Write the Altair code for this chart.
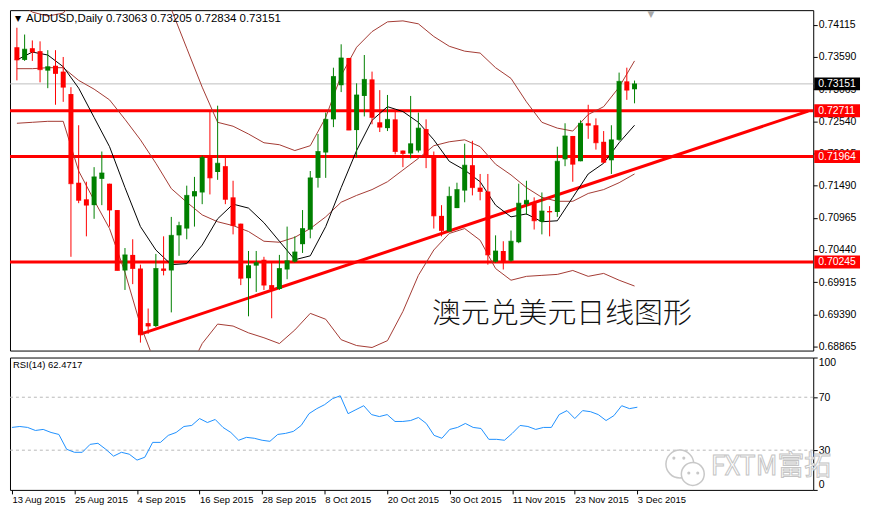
import altair as alt
import pandas as pd

# ---------------- data ----------------
date_labels = ["13 Aug 2015", "25 Aug 2015", "4 Sep 2015", "16 Sep 2015", "28 Sep 2015",
               "8 Oct 2015", "20 Oct 2015", "30 Oct 2015", "11 Nov 2015", "23 Nov 2015", "3 Dec 2015"]
date_pos = list(range(0, 81, 8))

open_ = [0.73749,0.73542,0.73733,0.73685,0.73367,0.73447,0.73351,0.72985,0.71538,0.71267,
         0.71172,0.71601,0.71522,0.71092,0.70106,0.70360,0.70138,0.69247,0.69199,0.70138,
         0.70106,0.70679,0.70790,0.71315,0.71379,0.71951,0.71713,0.71808,0.71299,0.70870,
         0.69979,0.70185,0.70281,0.69867,0.69804,0.70122,0.70249,0.70535,0.70774,0.71617,
         0.72031,0.72572,0.73129,0.73574,0.72397,0.72954,0.73224,0.72524,0.72429,0.72572,
         0.72063,0.72015,0.72063,0.72413,0.71951,0.70997,0.70742,0.71124,0.71410,0.71824,
         0.71458,0.71395,0.70249,0.70424,0.70265,0.70567,0.71188,0.71204,0.70901,0.71076,
         0.71060,0.71920,0.72301,0.71888,0.72508,0.72476,0.72206,0.71904,0.72238,0.73192,
         0.73063]
high = [0.74067,0.73956,0.73860,0.73845,0.73701,0.73701,0.73590,0.73097,0.72476,0.71554,
        0.71792,0.72047,0.71522,0.71092,0.70472,0.70615,0.70201,0.69485,0.70376,0.70663,
        0.70980,0.70901,0.71490,0.71633,0.71983,0.72715,0.72795,0.71951,0.71570,0.70870,
        0.70424,0.70424,0.70329,0.70233,0.70360,0.70822,0.70663,0.71092,0.71729,0.72333,
        0.72683,0.73415,0.73797,0.73574,0.73160,0.73622,0.73351,0.73049,0.72970,0.72731,
        0.72063,0.72954,0.72683,0.72572,0.72047,0.71172,0.71474,0.71538,0.72174,0.72222,
        0.71681,0.71681,0.70679,0.70583,0.70758,0.71522,0.71570,0.71299,0.71379,0.71156,
        0.72126,0.72508,0.72301,0.72556,0.72810,0.72588,0.72381,0.72476,0.73335,0.73415,
        0.73205]
low = [0.73208,0.73526,0.73526,0.73176,0.73081,0.72810,0.72858,0.70329,0.71204,0.70663,
       0.70949,0.71172,0.70822,0.70106,0.69788,0.69883,0.68929,0.69072,0.69183,0.70026,
       0.69422,0.70345,0.70615,0.70822,0.71188,0.71347,0.71585,0.71188,0.70695,0.69867,
       0.69358,0.69756,0.69788,0.69326,0.69788,0.69963,0.70233,0.70392,0.70631,0.71458,
       0.71617,0.72445,0.73017,0.72397,0.71951,0.72620,0.72492,0.72365,0.72381,0.72000,
       0.71792,0.71935,0.72031,0.71776,0.70790,0.70663,0.70742,0.71124,0.71219,0.71331,
       0.71251,0.70201,0.70233,0.70122,0.70249,0.70551,0.71013,0.70774,0.70695,0.70663,
       0.70981,0.71808,0.71554,0.71888,0.72254,0.72079,0.71856,0.71681,0.72222,0.72890,
       0.72834]
close = [0.73542,0.73717,0.73670,0.73383,0.73431,0.73320,0.73097,0.71522,0.71251,0.71172,
         0.71633,0.71697,0.71092,0.70106,0.70360,0.70138,0.69056,0.69199,0.70138,0.70106,
         0.70679,0.70838,0.71331,0.71395,0.71951,0.71617,0.71856,0.71267,0.70838,0.69979,
         0.70185,0.70233,0.69867,0.69804,0.70138,0.70265,0.70408,0.70790,0.71617,0.72047,
         0.72572,0.73272,0.73574,0.72397,0.72970,0.73224,0.72604,0.72445,0.72572,0.72047,
         0.72015,0.72174,0.72429,0.71951,0.70997,0.70758,0.71315,0.71426,0.71824,0.71458,
         0.71395,0.70360,0.70424,0.70249,0.70583,0.71204,0.71251,0.70917,0.71076,0.71060,
         0.71888,0.72301,0.71840,0.72508,0.72476,0.72190,0.71872,0.72238,0.73192,0.73049,
         0.73151]

band_idx = list(range(0, 81, 2))
ma_line = [0.73542,0.73670,0.73622,0.73431,0.73081,0.72604,0.72126,0.71458,0.70822,0.70440,
           0.70201,0.70217,0.70520,0.70949,0.71188,0.71124,0.70885,0.70583,0.70281,0.70345,
           0.70822,0.71458,0.72063,0.72556,0.72779,0.72699,0.72524,0.72238,0.71888,0.71745,
           0.71554,0.71172,0.70981,0.71029,0.70901,0.70917,0.71299,0.71681,0.71856,0.72190,
           0.72476]
bb_mid = [0.73399,0.73399,0.73415,0.73415,0.73208,0.73065,0.72890,0.72572,0.72238,0.71856,
          0.71442,0.71220,0.71013,0.70901,0.70838,0.70742,0.70583,0.70567,0.70647,0.70790,
          0.70981,0.71220,0.71331,0.71426,0.71554,0.71745,0.71935,0.72142,0.72206,0.72238,
          0.72126,0.71840,0.71665,0.71458,0.71299,0.71235,0.71235,0.71363,0.71426,0.71538,
          0.71681]
bb_upper = [0.74497,0.74322,0.74258,0.74306,0.74608,0.74847,0.75085,0.75244,0.75324,0.75006,
            0.74370,0.73733,0.73097,0.72524,0.72460,0.72333,0.72190,0.72158,0.72063,0.72142,
            0.72604,0.73288,0.73749,0.74004,0.74163,0.74179,0.74131,0.73924,0.73765,0.73685,
            0.73654,0.73415,0.73240,0.72858,0.72524,0.72429,0.72381,0.72651,0.72779,0.73097,
            0.73526]
bb_lower = [0.72508,0.72524,0.72540,0.72540,0.71729,0.71251,0.70790,0.70074,0.69215,0.68563,
            0.68324,0.68404,0.68913,0.69231,0.69199,0.69088,0.69008,0.68913,0.69135,0.69406,
            0.69310,0.68976,0.68881,0.68849,0.68961,0.69438,0.70026,0.70440,0.70710,0.70790,
            0.70599,0.70138,0.69947,0.70010,0.70026,0.70042,0.70106,0.70010,0.70058,0.69947,
            0.69852]

rsi = [47.2,47.9,47.2,44.9,45.7,43.4,41.9,30.7,28.4,28.4,
       34.4,35.2,30.7,25.5,28.4,27.0,22.5,24.7,35.9,35.9,
       41.2,43.4,47.9,48.7,53.9,50.9,53.2,47.2,43.4,37.5,
       39.7,39.0,37.5,36.7,41.9,42.7,44.2,48.7,57.6,61.4,
       64.4,68.9,71.1,57.6,60.6,63.6,56.9,55.4,56.9,51.7,
       51.7,52.4,54.7,50.2,41.2,39.0,45.7,47.2,50.2,47.2,
       46.4,38.2,38.2,37.5,42.7,48.7,47.9,45.7,47.2,47.2,
       56.9,59.9,53.9,59.9,59.1,56.9,52.4,56.1,63.6,61.4,
       62.47]

level_prices = [0.72711, 0.71964, 0.70245]
trend_i = [16.1, 102.5]
trend_p = [0.69072, 0.72707]
price_ticks = [0.74115, 0.73590, 0.73065, 0.72540, 0.72015, 0.71490,
               0.70965, 0.70440, 0.69915, 0.69390, 0.68865]
rsi_ticks = [0, 30, 70, 100]
rsi_levels = [30, 70]
header = "AUDUSD,Daily  0.73063 0.73205 0.72834 0.73151"
rsi_title = "RSI(14) 62.4717"
caption = "澳元兑美元日线图形"
watermark = "FXTM富拓"

# ---------------- layout ----------------
W, H1, H2 = 807, 342, 133
FONT = "Liberation Sans"
xscale = alt.Scale(domain=[-0.25, 102.5], nice=False, zero=False)
yscale = alt.Scale(domain=[0.68799, 0.74354], nice=False, zero=False)

ax_y = alt.Axis(orient="right", values=price_ticks, format=".5f", domain=False, grid=False,
                ticks=True, tickSize=4, tickColor="black", labelPadding=1,
                labelFont=FONT, labelFontSize=10.5, labelColor="black", title=None)


def X(f):
    return alt.X(f, type="quantitative", scale=xscale, axis=None)


def Y(f):
    return alt.Y(f, type="quantitative", scale=yscale, axis=ax_y)


candles = pd.DataFrame({"i": list(range(len(close))), "open": open_, "high": high,
                        "low": low, "close": close})
candles["dir"] = ["up" if c >= o else "down" for o, c in zip(open_, close)]
col = alt.Color("dir:N", scale=alt.Scale(domain=["up", "down"], range=["#008000", "#ff0000"]),
                legend=None)

bands = pd.DataFrame({"i": band_idx, "ma": ma_line, "mid": bb_mid,
                      "upper": bb_upper, "lower": bb_lower})

cur_line = alt.Chart(pd.DataFrame({"p": [close[-1]]})).mark_rule(
    color="#c0c0c0", strokeWidth=1).encode(y=Y("p"))
levels = alt.Chart(pd.DataFrame({"p": level_prices})).mark_rule(
    color="#ff0000", strokeWidth=3).encode(y=Y("p"))
trend = alt.Chart(pd.DataFrame({"i": trend_i, "p": trend_p})).mark_line(
    color="#ff0000", strokeWidth=3, clip=True).encode(x=X("i"), y=Y("p"))

band_layers = []
for c in ["upper", "mid", "lower"]:
    band_layers.append(alt.Chart(bands).mark_line(color="#a33a33", strokeWidth=1, clip=True)
                       .encode(x=X("i"), y=Y(c)))
ma = alt.Chart(bands).mark_line(color="black", strokeWidth=1, clip=True).encode(
    x=X("i"), y=Y("ma"))

wicks = alt.Chart(candles).mark_rule(strokeWidth=1).encode(
    x=X("i"), y=Y("low"), y2=alt.Y2("high"), color=col)
bodies = alt.Chart(candles).mark_bar(size=5).encode(
    x=X("i"), y=Y("open"), y2=alt.Y2("close"), color=col)
dojis = alt.Chart(candles).mark_tick(orient="horizontal", size=5, thickness=1).encode(
    x=X("i"), y=Y("close"), color=col)

box_df = pd.DataFrame({"p": [close[-1]] + level_prices})
box_df["lab"] = [f"{v:.5f}" for v in box_df["p"]]
box_df["bg"] = ["black", "#ff0000", "#ff0000", "#ff0000"]
box_path = "M-1,-0.2826L1,-0.2826L1,0.2826L-1,0.2826Z"
boxes = alt.Chart(box_df).mark_point(shape=box_path, size=2116, filled=True, opacity=1,
                                     strokeWidth=0).encode(
    x=alt.value(W + 24), y=Y("p"), color=alt.Color("bg:N", scale=None))
box_text = alt.Chart(box_df).mark_text(align="left", baseline="middle", color="white",
                                       font=FONT, fontSize=10.5).encode(
    x=alt.value(W + 5), y=Y("p"), text="lab:N")

head_tri = alt.Chart(pd.DataFrame({"t": ["▼"]})).mark_text(
    align="left", baseline="middle", fontSize=8, color="black", font="DejaVu Sans").encode(
    x=alt.value(5), y=alt.value(9), text="t:N")
head = alt.Chart(pd.DataFrame({"t": [header]})).mark_text(
    align="left", baseline="middle", fontSize=11.5, color="black", font=FONT).encode(
    x=alt.value(16), y=alt.value(9), text="t:N")
shift_tri = alt.Chart(pd.DataFrame({"t": ["▼"]})).mark_text(
    align="center", baseline="top", fontSize=9, color="#a8a8a8", font="DejaVu Sans").encode(
    x=alt.value(644), y=alt.value(0), text="t:N")
cap = alt.Chart(pd.DataFrame({"t": [caption]})).mark_text(
    align="left", baseline="middle", fontSize=29, color="#111111",
    font="Noto Sans CJK SC", fontWeight=300).encode(
    x=alt.value(424), y=alt.value(305), text="t:N")

main = alt.layer(cur_line, levels, trend, *band_layers, ma, wicks, bodies, dojis,
                 boxes, box_text, head_tri, head, shift_tri, cap).properties(width=W, height=H1)

# ---------------- RSI panel ----------------
label_expr = "[" + ",".join(f"'{d}'" for d in date_labels) + "][round(datum.value/8)]"
ax_x = alt.Axis(values=date_pos, labelExpr=label_expr, labelAlign="left", labelFont=FONT,
                labelFontSize=9.5, labelColor="black", tickSize=4, tickColor="black",
                domain=False, grid=False, labelPadding=1, labelOverlap=False, title=None)
ax_r = alt.Axis(orient="right", values=rsi_ticks, domain=False, grid=False, tickSize=4,
                tickColor="black", labelPadding=1, labelFont=FONT, labelFontSize=10.5,
                labelColor="black", labelFlush=True, title=None)
rscale = alt.Scale(domain=[0, 100], nice=False, zero=False)


def XR(f):
    return alt.X(f, type="quantitative", scale=xscale, axis=ax_x)


def YR(f):
    return alt.Y(f, type="quantitative", scale=rscale, axis=ax_r)


rsi_df = pd.DataFrame({"i": list(range(len(rsi))), "rsi": rsi})
rlev = alt.Chart(pd.DataFrame({"v": rsi_levels})).mark_rule(
    color="#b8b8b8", strokeDash=[3, 3], strokeWidth=1).encode(y=YR("v"))
rline = alt.Chart(rsi_df).mark_line(color="#1e90ff", strokeWidth=1).encode(
    x=XR("i"), y=YR("rsi"))
rtitle = alt.Chart(pd.DataFrame({"t": [rsi_title]})).mark_text(
    align="left", baseline="middle", fontSize=9.5, color="black", font=FONT).encode(
    x=alt.value(3), y=alt.value(8), text="t:N")

logo_df = pd.DataFrame({"x": [673, 686], "y": [107, 117], "s": [784, 529]})
logo = alt.Chart(logo_df).mark_point(shape="circle", filled=False, fill="white",
                                     stroke="#c8c8c8", strokeWidth=1.5, opacity=1).encode(
    x=alt.X("x:Q", scale=None, axis=None), y=alt.Y("y:Q", scale=None, axis=None),
    size=alt.Size("s:Q", scale=None, legend=None))
eyes_df = pd.DataFrame({"x": [667, 677, 682, 691], "y": [101, 101, 116, 116]})
eyes = alt.Chart(eyes_df).mark_circle(color="#c8c8c8", size=10, opacity=1).encode(
    x=alt.X("x:Q", scale=None, axis=None), y=alt.Y("y:Q", scale=None, axis=None))
wm = alt.Chart(pd.DataFrame({"t": [watermark]})).mark_text(
    align="left", baseline="middle", fontSize=27, fill="white", stroke="#c4c4c4",
    strokeWidth=1, font="Noto Sans CJK SC").encode(
    x=alt.value(704), y=alt.value(110), text="t:N")

rsi_chart = alt.layer(rlev, rline, rtitle, logo, eyes, wm).properties(width=W, height=H2)

chart = alt.vconcat(main, rsi_chart, spacing=4).properties(
    padding=0, background="white").configure_view(stroke="black", strokeWidth=1)

chart.save("out.html", embed_options={"renderer": "svg", "actions": False})
